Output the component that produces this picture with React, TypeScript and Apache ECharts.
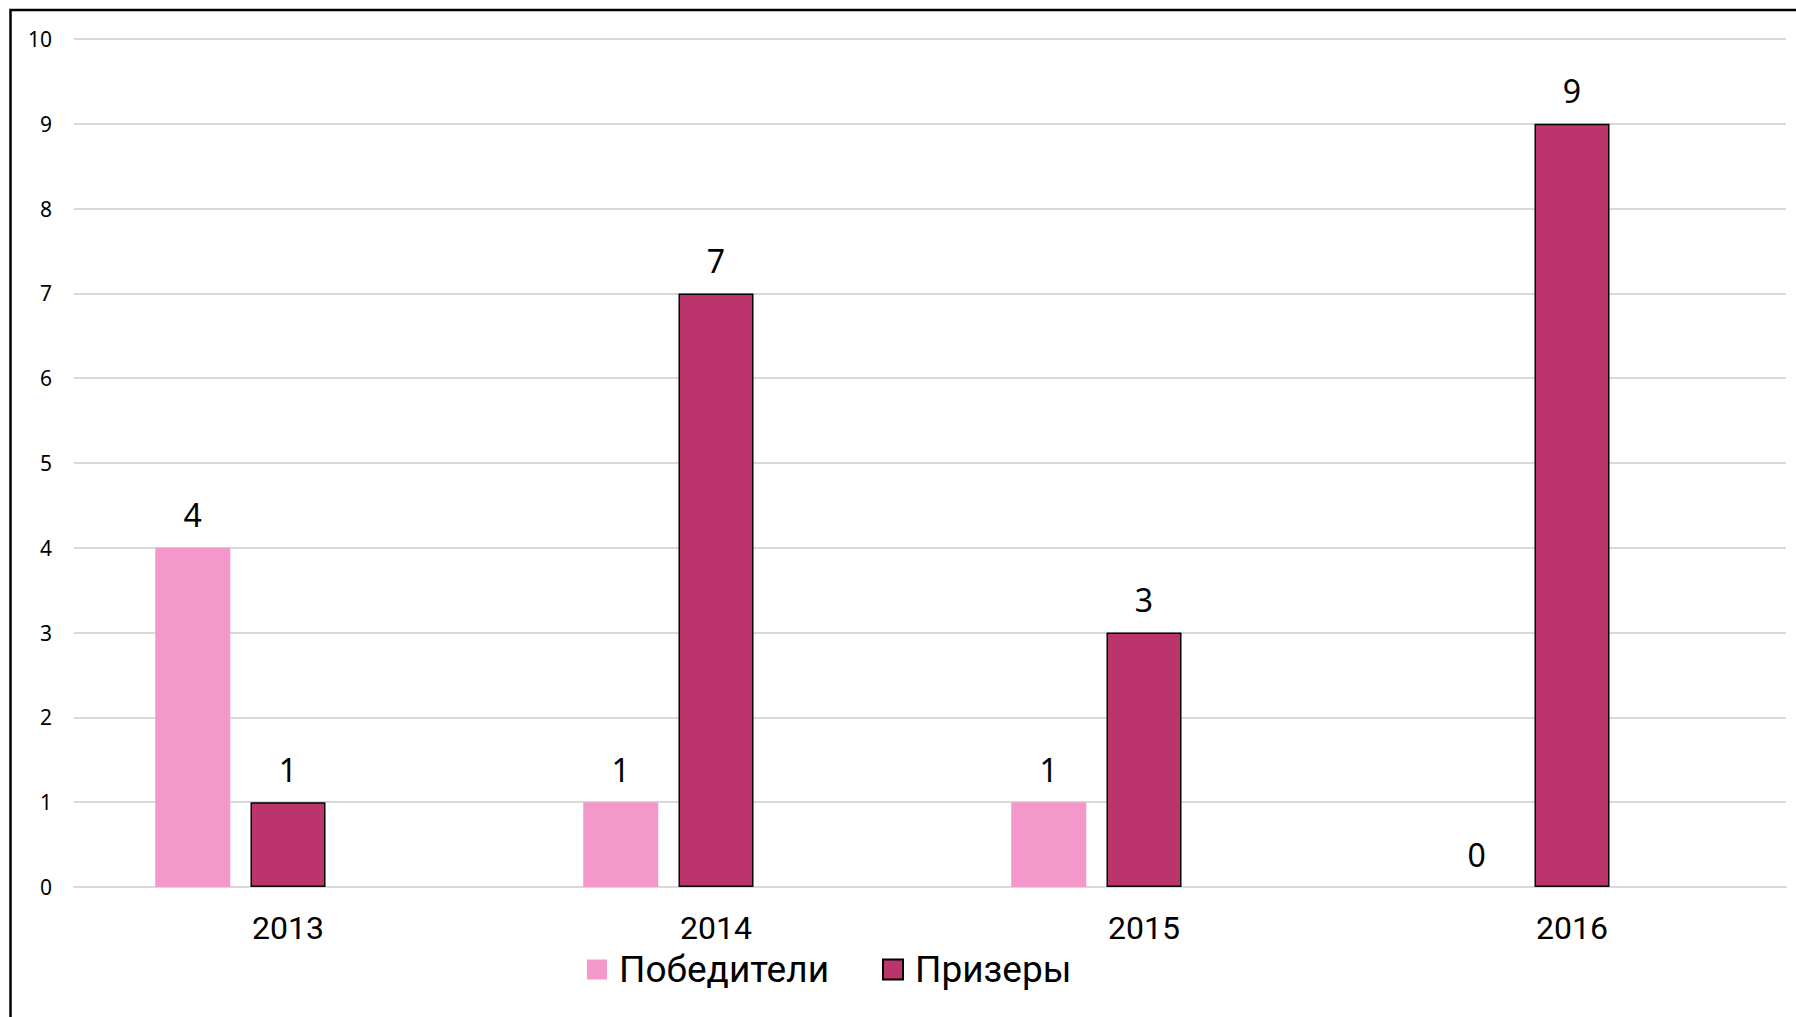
import React, { useEffect, useRef } from "react";
import * as echarts from "echarts";

const categories = ["2013", "2014", "2015", "2016"];
const winners = [4, 1, 1, 0];
const prizewinners = [1, 7, 3, 9];
const emptySeries = [null, null, null, null];
const yTicks = { min: 0, max: 10, interval: 1 };

const FONT = "Noto Sans";
const LOWER_FONT = "Roboto";

export default function App() {
  const ref = useRef<HTMLDivElement>(null);
  useEffect(() => {
    document.body.style.margin = "0";
    const chart = echarts.init(ref.current!, undefined, { renderer: "svg" });
    chart.setOption({
      animation: false,
      backgroundColor: "#ffffff",
      textStyle: { fontFamily: FONT },
      graphic: [
        {
          type: "rect",
          shape: { x: 10.5, y: 10, width: 1800, height: 1020 },
          style: { fill: "none", stroke: "#000000", lineWidth: 2.5 },
          silent: true,
          z: 100,
        },
      ],
      grid: { left: 74, right: 10, top: 39, bottom: 130, containLabel: false },
      legend: {
        data: ["Победители", "Призеры"],
        icon: "rect",
        left: 587,
        top: 951,
        padding: 0,
        itemWidth: 20,
        itemHeight: 20,
        itemGap: 53,
        textStyle: { fontFamily: LOWER_FONT, fontSize: 37, lineHeight: 30, color: "#000", padding: [0, 0, 0, 7] },
      },
      xAxis: {
        type: "category",
        data: categories,
        axisLine: { lineStyle: { color: "#d9d9d9", width: 2 } },
        axisTick: { show: false },
        axisLabel: { fontFamily: LOWER_FONT, fontSize: 32, lineHeight: 30, color: "#000", margin: 26 },
      },
      yAxis: {
        type: "value",
        min: yTicks.min,
        max: yTicks.max,
        interval: yTicks.interval,
        axisLine: { show: false },
        axisTick: { show: false },
        splitLine: { lineStyle: { color: "#d9d9d9", width: 2 } },
        axisLabel: { fontFamily: FONT, fontSize: 21, color: "#000", margin: 22 },
      },
      series: [
        {
          name: "Победители",
          type: "bar",
          data: winners,
          barWidth: 75,
          barGap: "27%",
          itemStyle: { color: "#f497ca" },
          label: { show: true, position: "top", distance: 17, fontFamily: FONT, fontSize: 32, color: "#000" },
        },
        {
          name: "Призеры",
          type: "bar",
          data: prizewinners,
          barWidth: 75,
          barGap: "27%",
          itemStyle: { color: "#bc346c", borderColor: "#000", borderWidth: 1.5 },
          label: { show: true, position: "top", distance: 17, fontFamily: FONT, fontSize: 32, color: "#000" },
        },
        {
          name: "empty",
          type: "bar",
          data: emptySeries,
          barWidth: 75,
          barGap: "27%",
        },
      ],
    });
    return () => chart.dispose();
  }, []);
  return <div ref={ref} style={{ position: "fixed", left: 0, top: 0, width: 1796, height: 1017 }} />;
}
